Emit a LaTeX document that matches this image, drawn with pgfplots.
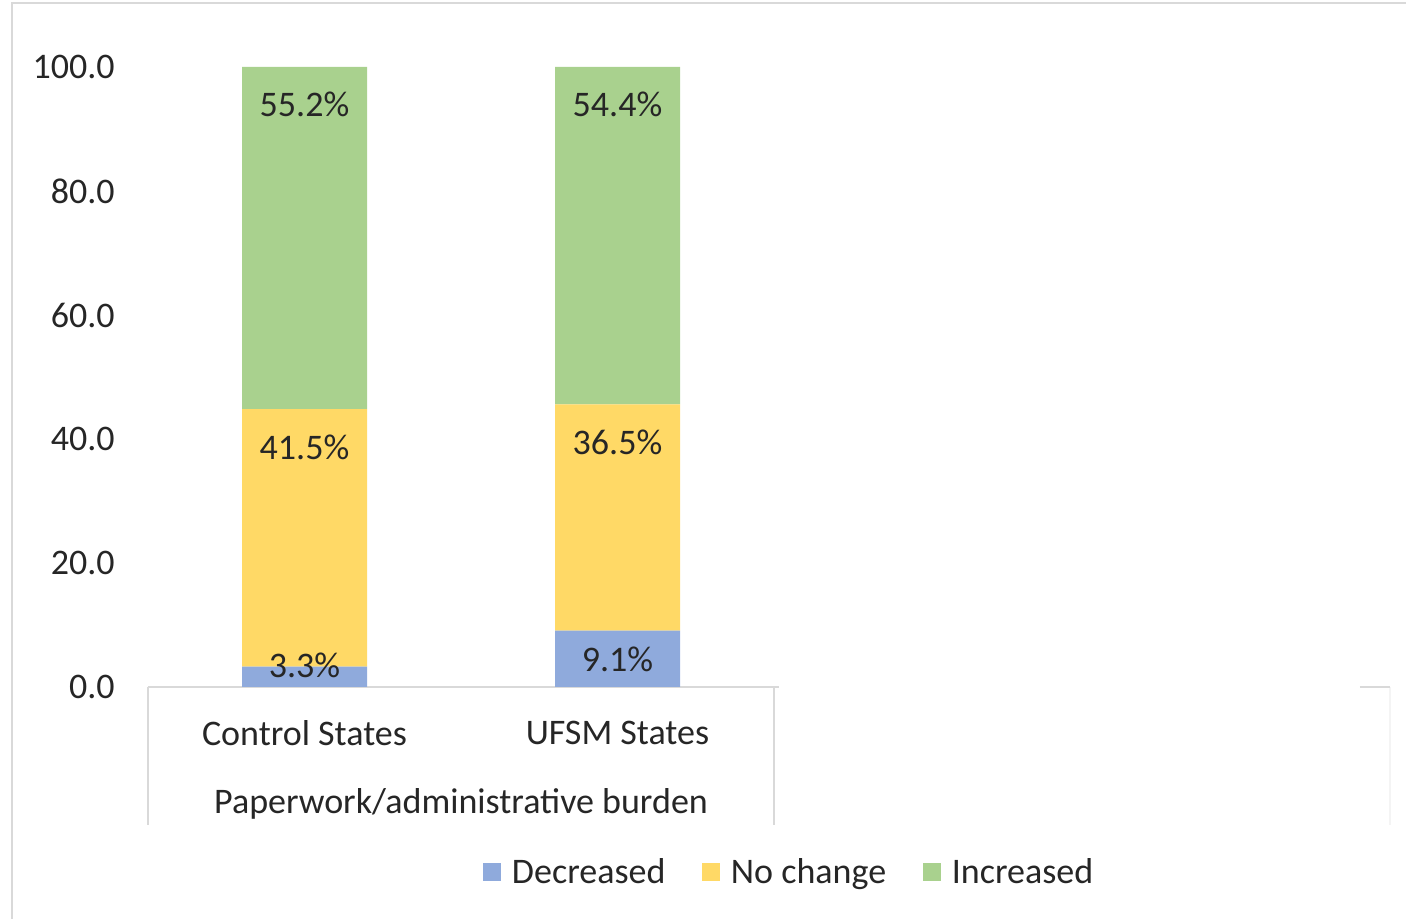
\documentclass[border=0pt]{standalone}
\usepackage{fontspec}
\setmainfont{Carlito}
\usepackage{pgfplots}
\pgfplotsset{compat=1.18}
\definecolor{cDec}{HTML}{8FAADC}
\definecolor{cNo}{HTML}{FFD966}
\definecolor{cInc}{HTML}{A9D18E}
\definecolor{frame}{HTML}{D9D9D9}
\definecolor{txt}{HTML}{262626}
\begin{document}
\begin{tikzpicture}[font=\fontsize{18}{21.6}\selectfont]
\useasboundingbox (0,0) rectangle (703pt,459.5pt);
\draw[line width=1.2pt, frame] (6pt,-5pt) -- (6pt,458pt) -- (710pt,458pt);
\begin{axis}[
  at={(74pt,116pt)}, anchor=south west,
  width=621pt, height=310pt, scale only axis,
  xmin=-0.5, xmax=3.468, ymin=0, ymax=100,
  axis line style={draw=none},
  ybar stacked, bar width=62.5pt,
  xtick={0,1}, xticklabels={Control States, UFSM States},
  ytick={0,20,40,60,80,100},
  tick style={draw=none},
  major tick length=0pt,
  /pgf/number format/assume math mode=true,
  yticklabel style={/pgf/number format/fixed, /pgf/number format/fixed zerofill, /pgf/number format/precision=1, anchor=east, inner sep=0pt, xshift=-16.5pt, text=txt},
  xticklabel style={anchor=center, inner sep=0pt, yshift=-23pt, text=txt},
  legend columns=3,
  legend style={at={(axis description cs:0.5155,-0.2984)}, anchor=center, draw=none, fill=none, inner sep=0pt,
     nodes={inner sep=0pt, text=txt},
     /tikz/every odd column/.append style={column sep=5.5pt},
     /tikz/every even column/.append style={column sep=18.5pt}},
  legend cell align=left,
  legend image code/.code={\fill[#1] (0pt,-4.4pt) rectangle (8.8pt,4.4pt);},
  clip=false,
]
\addplot[fill=cDec, draw=none] coordinates {(0,3.3) (1,9.1)};
\addplot[fill=cNo, draw=none] coordinates {(0,41.5) (1,36.5)};
\addplot[fill=cInc, draw=none] coordinates {(0,55.2) (1,54.4)};
\legend{Decreased, No change, Increased}
\draw[frame, line width=1.2pt] (axis cs:-0.5,0) -- (axis cs:1.515,0);
\draw[frame, line width=1.2pt] (axis cs:3.372,0) -- (axis cs:3.468,0);
\draw[frame, line width=1pt] (axis cs:-0.5,0) -- ++(0pt,-69pt);
\draw[frame, line width=1pt] (axis cs:1.5,0) -- ++(0pt,-69pt);
\draw[frame!30, line width=0.8pt] (axis cs:3.468,0) -- ++(0pt,-69pt);
\node[text=txt] at (axis cs:0.5,0) [yshift=-58.5pt] {Paperwork/administrative burden};
\end{axis}
\begin{axis}[
  at={(74pt,116pt)}, anchor=south west,
  width=621pt, height=310pt, scale only axis,
  xmin=-0.5, xmax=3.468, ymin=0, ymax=100,
  hide axis, clip=false,
]
\addplot[only marks, mark=none, nodes near coords, point meta=explicit symbolic,
  every node near coord/.append style={anchor=center, inner sep=0pt, text=txt}]
  coordinates {(0,93.9) [55.2\%] (0,38.7) [41.5\%] (0,3.5) [3.3\%]
               (1,93.9) [54.4\%] (1,39.4) [36.5\%] (1,4.4) [9.1\%]};
\end{axis}
\end{tikzpicture}
\end{document}
